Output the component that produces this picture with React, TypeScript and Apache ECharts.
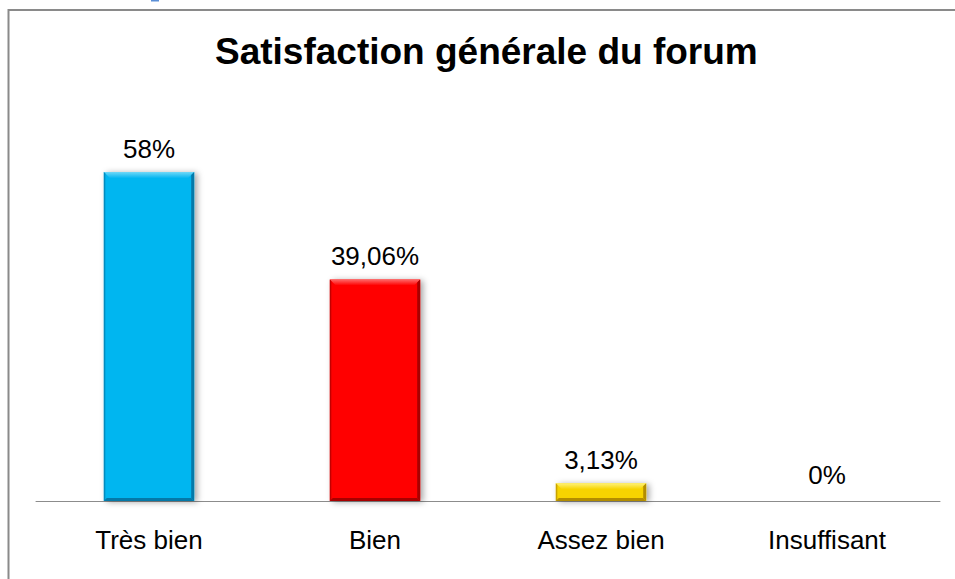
import React, { useEffect, useRef } from "react";
import * as echarts from "echarts";

const categories = ["Très bien", "Bien", "Assez bien", "Insuffisant"];
const values = [58, 39.06, 3.13, 0];
const baseColors = ["#06b6f0", "#ff0000", "#f7d400", "#9e9e9e"];
const lightColors = ["#6fd8f8", "#ff6a6a", "#fff27a", "#d0d0d0"];
const darkColors = ["#0479a8", "#a80000", "#b38d00", "#707070"];
const titleText = "Satisfaction générale du forum";

const fmt = (v: number) => String(v).replace(".", ",") + "%";

export default function App() {
  const ref = useRef<HTMLDivElement>(null);
  useEffect(() => {
    if (!ref.current) return;
    document.body.style.margin = "0";
    document.documentElement.style.overflow = "hidden";
    document.body.style.overflow = "hidden";
    const chart = echarts.init(ref.current, undefined, { renderer: "svg" });
    const font = "'Liberation Sans', Arial, sans-serif";
    chart.setOption({
      animation: false,
      backgroundColor: "#ffffff",
      title: {
        text: titleText,
        left: 210,
        top: 28,
        textStyle: { fontFamily: font, fontSize: 37, fontWeight: "bold", color: "#000" },
      },
      grid: { left: 36, right: 15, top: 104, bottom: 78 },
      xAxis: {
        type: "category",
        data: categories,
        axisLine: { lineStyle: { color: "#8c8c8c", width: 1 } },
        axisTick: { show: false },
        axisLabel: { fontFamily: font, fontSize: 26, color: "#000", margin: 26 },
      },
      yAxis: {
        type: "value",
        min: 0,
        max: 70,
        show: false,
        splitLine: { show: false },
      },
      graphic: [
        { type: "line", shape: { x1: 8.5, y1: 9, x2: 8.5, y2: 580 }, style: { stroke: "#8a8a8a", lineWidth: 2 } },
        { type: "line", shape: { x1: 8, y1: 10, x2: 960, y2: 10 }, style: { stroke: "#8a8a8a", lineWidth: 2 } },
        { type: "rect", shape: { x: 151, y: 0, width: 8, height: 1.5 }, style: { fill: "#5b8fd6" } },
      ],
      series: [
        {
          type: "custom",
          data: values.map((v, i) => [i, v]),
          encode: { x: 0, y: 1 },
          renderItem: (params: any, api: any) => {
            const idx = api.value(0);
            const v = api.value(1);
            const top = api.coord([idx, v]);
            const base = api.coord([idx, 0]);
            const w = api.size([1, 0])[0] * 0.4;
            const x0 = top[0] - w / 2;
            const x1 = top[0] + w / 2;
            const y0 = top[1];
            const y1 = base[1];
            const h = y1 - y0;
            const children: any[] = [];
            if (h > 0.5) {
              const b = Math.min(6, h / 2);
              children.push({
                type: "rect",
                shape: { x: x0, y: y0, width: w, height: h },
                style: { fill: baseColors[idx], shadowBlur: 6, shadowColor: "rgba(0,0,0,0.35)", shadowOffsetX: 3, shadowOffsetY: 1 },
              });
              children.push({
                type: "polygon",
                shape: { points: [[x0, y0], [x1, y0], [x1 - b, y0 + b], [x0 + b, y0 + b]] },
                style: {
                  fill: new echarts.graphic.LinearGradient(0, 0, 0, 1, [
                    { offset: 0, color: lightColors[idx] },
                    { offset: 1, color: baseColors[idx] },
                  ]),
                },
              });
              children.push({
                type: "polygon",
                shape: { points: [[x1, y0], [x1, y1], [x1 - b / 2, y1 - b / 2], [x1 - b / 2, y0 + b / 2]] },
                style: { fill: darkColors[idx] },
              });
              children.push({
                type: "polygon",
                shape: { points: [[x0, y1], [x1, y1], [x1 - b / 2, y1 - b / 2], [x0 + b / 2, y1 - b / 2]] },
                style: { fill: darkColors[idx] },
              });
              children.push({
                type: "polygon",
                shape: { points: [[x0, y0], [x0, y1], [x0 + 1.5, y1 - 1.5], [x0 + 1.5, y0 + 1.5]] },
                style: { fill: darkColors[idx], opacity: 0.7 },
              });
            }
            children.push({
              type: "text",
              x: top[0],
              y: y0 - (h > 0.5 ? 10 : 13),
              style: {
                text: fmt(v),
                fill: "#000",
                font: `26px ${font}`,
                align: "center",
                verticalAlign: "bottom",
              },
            });
            return { type: "group", children };
          },
        },
      ],
    });
    return () => chart.dispose();
  }, []);
  return <div ref={ref} style={{ width: 955, height: 579 }} />;
}
